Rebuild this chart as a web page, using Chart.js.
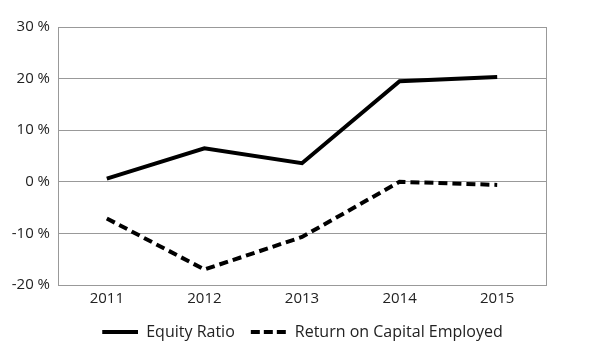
<!DOCTYPE html>
<html>
<head>
<meta charset="utf-8">
<script src="https://cdn.jsdelivr.net/npm/chart.js@4"></script>
<style>
html,body{margin:0;padding:0;background:#fff;}
#wrap{width:600px;height:361px;}
</style>
</head>
<body>
<div id="wrap"><canvas id="c"></canvas></div>
<script>
const categories = ["2011", "2012", "2013", "2014", "2015"];
const equityRatio = [0.6, 6.5, 3.6, 19.5, 20.3];
const returnOnCapital = [-7.1, -17.0, -10.7, 0.0, -0.6];
const seriesNames = ["Equity Ratio", "Return on Capital Employed"];

// legend swatch: transparent left margin + 36px line
function legendSwatch(dash) {
  const c = document.createElement('canvas');
  c.width = 41; c.height = 6;
  const x = c.getContext('2d');
  x.strokeStyle = '#000';
  x.lineWidth = 4;
  x.setLineDash(dash);
  x.beginPath();
  x.moveTo(5, 3); x.lineTo(41, 3);
  x.stroke();
  return c;
}

const FONT = { family: 'Open Sans', size: 15 };

new Chart(document.getElementById('c'), {
  type: 'line',
  data: {
    labels: categories,
    datasets: [
      { label: seriesNames[0], data: equityRatio, borderColor: '#000', backgroundColor: '#000', borderWidth: 4, pointRadius: 0, pointStyle: legendSwatch([]), tension: 0, borderCapStyle: 'butt' },
      { label: seriesNames[1], data: returnOnCapital, borderColor: '#000', backgroundColor: '#000', borderWidth: 4, borderDash: [9, 5], pointRadius: 0, pointStyle: legendSwatch([9, 4]), tension: 0, borderCapStyle: 'butt' }
    ]
  },
  options: {
    responsive: true,
    maintainAspectRatio: false,
    animation: false,
    layout: { padding: { left: 0, right: 0, top: 27, bottom: 11 } },
    plugins: {
      tooltip: { enabled: false },
      legend: {
        position: 'bottom',
        labels: {
          usePointStyle: true,
          pointStyleWidth: 41,
          color: '#222',
          font: { family: 'Open Sans', size: 16 },
          padding: 11
        }
      }
    },
    scales: {
      x: {
        offset: true,
        grid: { display: false, drawTicks: false },
        border: { display: false },
        ticks: { color: '#222', font: FONT, padding: 5 }
      },
      y: {
        min: -20, max: 30,
        afterFit(s) { s.width = 58; },
        grid: { color: '#999', lineWidth: 1, drawTicks: false },
        border: { display: true, color: '#999' },
        ticks: { stepSize: 10, color: '#222', font: FONT, padding: 8, callback: v => v + ' %' }
      },
      y2: {
        position: 'right',
        min: -20, max: 30,
        afterFit(s) { s.width = 54; },
        grid: { display: false, drawTicks: false },
        border: { display: true, color: '#999' },
        ticks: { display: false }
      }
    }
  }
});
</script>
</body>
</html>
